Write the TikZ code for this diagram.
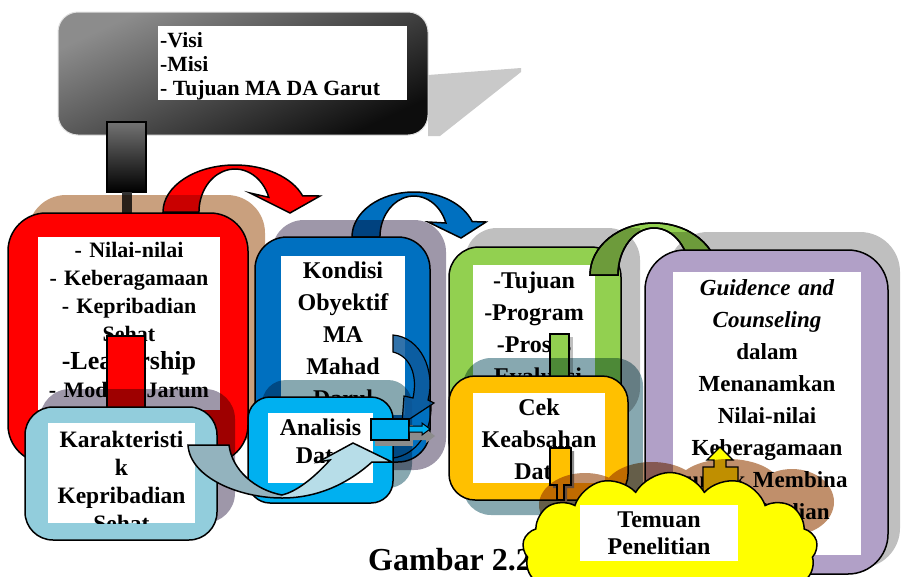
\documentclass[tikz,border=0pt]{standalone}
\usepackage{fontspec}
\setmainfont{Liberation Serif}
\usetikzlibrary{shapes.symbols,arrows.meta}
\definecolor{cred}{HTML}{FF0000}
\definecolor{cblue}{HTML}{0070C0}
\definecolor{cdeep}{HTML}{0D5A9C}
\definecolor{csky}{HTML}{00B0F0}
\definecolor{cpale}{HTML}{92CDDC}
\definecolor{cturn}{HTML}{B7DDE8}
\definecolor{cturndark}{HTML}{93B3BE}
\definecolor{cgreen}{HTML}{92D050}
\definecolor{corange}{HTML}{FFC000}
\definecolor{cviolet}{HTML}{B1A0C7}
\definecolor{cyellow}{HTML}{FFFF00}
\definecolor{ctan}{HTML}{C9A07E}
\definecolor{cmauve}{HTML}{9E97A9}
\definecolor{cgrey}{HTML}{BFBFBF}
\definecolor{cteal}{HTML}{87A8B0}
\definecolor{cbrown}{HTML}{C08F6B}
\newcommand{\fs}[2]{\fontsize{#1}{#2}\selectfont\bfseries}
\tikzset{
  % one frame style; the argument is the fill colour of the ring
  frame/.style={fill=#1, draw=black, line width=1.5pt},
  backdrop/.style={fill=#1, blend mode=multiply},
  txt/.style={anchor=north, inner sep=0pt, align=center},
}

\begin{document}
\begin{tikzpicture}[x=1pt,y=-1pt]
  \useasboundingbox (0,0) rectangle (901,576);

  % ---- top: visi, misi, tujuan ----
  \fill[black!21] (428,75) -- (521,68) -- (521,72) -- (440,136) -- (428,136) -- cycle;
  \shadedraw[top color=black!45, bottom color=black!95, shading angle=25, draw=black!12, line width=1pt, rounded corners=20pt] (58,12) rectangle (428,135);
  \fill[white] (158,26) rectangle (407,100);
  \node[anchor=north west, inner sep=0pt, align=left, font=\fs{21.7}{24}] (visi) at (160,32) {-Visi\\-Misi\\- Tujuan MA DA Garut};
  \shadedraw[top color=black!55, bottom color=black, draw=black, line width=1.5pt] (107,122) rectangle (146,192);
  \fill[black!80] (122,192) rectangle (132,214);

  % ---- nilai-nilai (red) ----
  \draw[frame=cred] (163,212) arc[start angle=180, end angle=340, x radius=72, y radius=47]
        -- (320,196) -- (290,213) -- (250,193) -- (268.8,197.3)
        arc[start angle=340, end angle=180, x radius=36, y radius=43] -- cycle;
  \fill[backdrop=ctan, rounded corners=38pt] (28,195) rectangle (265,445);
  \draw[frame=cred, rounded corners=38pt] (8,213) rectangle (248,463);
  \begin{scope}
    \clip (38,237) rectangle (220,410);
    \fill[white] (38,237) rectangle (220,410);
    \node[txt, text width=182pt, font=\fs{22}{28}] (nilai) at (129,242)
      {- Nilai-nilai\\- Keberagamaan\\- Kepribadian\\Sehat\\{\fontsize{26}{28}\selectfont -Leadership}\\- Modern Jarum};
  \end{scope}

  % ---- kondisi obyektif (blue) ----
  \draw[frame=cblue] (352,237) arc[start angle=180, end angle=340, x radius=62, y radius=45]
        -- (486,222) -- (461,238) -- (428,222) -- (445.9,223)
        arc[start angle=340, end angle=180, x radius=34, y radius=41] -- cycle;
  \fill[backdrop=cmauve, rounded corners=32pt] (272,220) rectangle (446,470);
  \draw[frame=cblue, rounded corners=32pt] (255,237) rectangle (430,462);
  \begin{scope}
    \clip (281,256) rectangle (405,415);
    \fill[white] (281,256) rectangle (405,415);
    \node[txt, text width=124pt, font=\fs{24}{32}] (kondisi) at (343,262)
      {Kondisi\\Obyektif\\MA\\Mahad\\Darul\\Arqam};
  \end{scope}

  % ---- tujuan, program (green) ----
  \fill[backdrop=cgrey, rounded corners=32pt] (465,228) rectangle (640,420);
  \fill[backdrop=cgrey, rounded corners=40pt] (668,232) rectangle (900,568);
  \draw[frame=cgreen, rounded corners=30pt] (449,247) rectangle (621,470);
  \begin{scope}
    \clip (473,265) rectangle (595,410);
    \fill[white] (473,265) rectangle (595,410);
    \node[txt, text width=122pt, font=\fs{24}{32}] (tujuan) at (534,272)
      {-Tujuan\\-Program\\-Proses\\-Evaluasi};
  \end{scope}
  \def\greenarc{(590,275) arc[start angle=180, end angle=360, x radius=64, y radius=52]
        -- (690,275) arc[start angle=360, end angle=180, x radius=36, y radius=47] -- cycle}
  \draw[frame=cgreen] \greenarc;
  \begin{scope}
    \clip (465,228) rectangle (640,420) (668,232) rectangle (900,300);
    \fill[backdrop=cgrey] \greenarc;
  \end{scope}
  \draw[line width=1.5pt] \greenarc;
  \fill[backdrop=cgrey] (550,337) rectangle (573,420);
  \draw[frame=cgreen] (550,334) rectangle (569,420);

  % ---- cek keabsahan data (orange) ----
  \fill[backdrop=cteal, rounded corners=28pt] (463,358) rectangle (643,515);
  \draw[frame=corange, rounded corners=26pt] (449,376) rectangle (628,500);
  \begin{scope}
    \clip (473,393) rectangle (605,483);
    \fill[white] (473,393) rectangle (605,483);
    \node[txt, text width=132pt, font=\fs{24}{32}] (cek) at (539,399)
      {Cek\\Keabsahan\\Data};
  \end{scope}
  \fill[black!45] (553,451) -- (574,451) -- (574,488) -- (567,488) -- (567,503) -- (560,503) -- (560,488) -- (553,488) -- cycle;
  \draw[frame=corange] (550,448) -- (571,448) -- (571,485) -- (564,485) -- (564,500) -- (557,500) -- (557,485) -- (550,485) -- cycle;

  % ---- guidence and counseling (violet) ----
  \draw[frame=cviolet, rounded corners=40pt] (645,250) rectangle (888,574);
  \fill[white] (673,272) rectangle (861,555);
  \node[txt, text width=188pt, font=\fs{23}{32}] (guide) at (767,279)
    {{\itshape Guidence and}\\{\itshape Counseling}\\dalam\\Menanamkan\\Nilai-nilai\\Keberagamaan\\untuk Membina\\Kepribadian};
  \draw[frame=cyellow, line width=1.2pt] (720,447) -- (733,460) -- (726,460) -- (726,467) -- (738,467) -- (738,500)
        -- (703,500) -- (703,467) -- (714,467) -- (714,460) -- (707,460) -- cycle;
  % shadow of the cloud, one lumpy blob
  \fill[backdrop=cbrown] (585,505) ellipse[x radius=46, y radius=32] (652,490) ellipse[x radius=48, y radius=28]
        (728,486) ellipse[x radius=52, y radius=27] (792,502) ellipse[x radius=42, y radius=33]
        (700,514) ellipse[x radius=115, y radius=23];

  % ---- karakteristik (pale blue) ----
  \draw[frame=cred] (107,336) rectangle (145,420);
  \fill[backdrop=cmauve, rounded corners=30pt] (40,389) rectangle (235,523);
  \draw[frame=cpale, rounded corners=28pt] (25,407) rectangle (217,540);
  \begin{scope}
    \clip (48,423) rectangle (195,523);
    \fill[white] (48,423) rectangle (195,523);
    \node[txt, text width=147pt, font=\fs{23.5}{28}] (karakter) at (121.5,431)
      {Karakteristi\\k\\Kepribadian\\Sehat};
  \end{scope}

  % ---- analisis data (sky) ----
  \fill[backdrop=cteal, rounded corners=24pt] (262,380) rectangle (412,488);
  \draw[frame=csky, rounded corners=22pt] (248,397) rectangle (393,503);
  \begin{scope}
    \clip (268,413) rectangle (373,483);
    \fill[white] (268,413) rectangle (373,483);
    \node[txt, text width=105pt, font=\fs{24}{28}] (analisis) at (320.5,419) {Analisis\\Data};
  \end{scope}
  \draw[line width=1.2pt, fill=cdeep, fill opacity=0.85] (393,335) .. controls (420,337) and (436,370) .. (428,400)
        -- (434,403) -- (402,424) -- (404,396) -- (413,398) .. controls (418,375) and (410,356) .. (393,352) -- cycle;
  \draw[line width=1.2pt] (431,405) .. controls (432,432) and (416,455) .. (393,458);

  % ---- u-turn arrow from karakteristik to analisis ----
  \def\uturn{(188,445) .. controls (190,478) and (240,498) .. (282,498) .. controls (322,498) and (352,480) .. (372,462)
        -- (392,462) -- (353,443) -- (318,462) -- (330,460) .. controls (312,480) and (295,492) .. (282,495)
        .. controls (255,490) and (232,470) .. (229,445) -- cycle}
  \fill[cturn] \uturn;
  \begin{scope}
    \clip (150,430) rectangle (282,510);
    \fill[cturndark] \uturn;
  \end{scope}
  \draw[line width=1.5pt] \uturn;

  % small arrow out of analisis
  \fill[black!45] (375,425) rectangle (413,446);
  \fill[black!45] (413,432) -- (426,432) -- (426,429) -- (435,436) -- (426,443) -- (426,440) -- (413,440) -- cycle;
  \draw[frame=csky] (371,419) rectangle (409,440);
  \draw[frame=csky, line width=1pt] (409,426) -- (422,426) -- (422,423) -- (430,429) -- (422,435) -- (422,432) -- (409,432) -- cycle;

  % ---- caption ----
  \node[anchor=base, inner sep=0pt, font=\fs{32}{36}] (caption) at (450,570) {Gambar 2.2};

  % ---- temuan penelitian ----
  \node[cloud, cloud puffs=13, cloud puff arc=120, cloud ignores aspect, fill=cyellow, draw=black, line width=1.5pt,
        minimum width=295pt, minimum height=155pt] (bubble) at (670,550) {};
  \fill[white] (580,505) rectangle (738,561);
  \node[txt, text width=158pt, font=\fs{24}{27}] (temuan) at (659,512) {Temuan\\Penelitian};
\end{tikzpicture}
\end{document}
